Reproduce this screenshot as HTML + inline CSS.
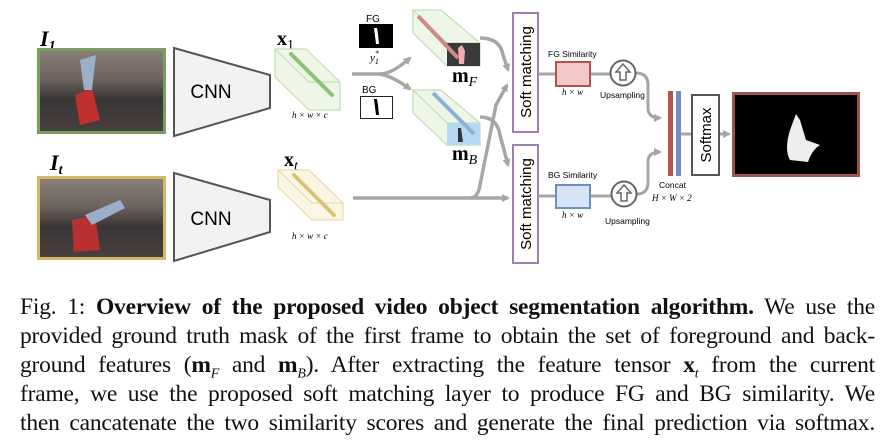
<!DOCTYPE html>
<html><head><meta charset="utf-8"><style>
body{margin:0;background:#fff;width:895px;height:441px;overflow:hidden;position:relative}
svg{position:absolute;left:0;top:0}
.cap{position:absolute;left:20px;width:855px;font-family:"Liberation Serif",serif;font-size:23.5px;line-height:23px;text-align:justify;text-align-last:justify;white-space:nowrap;color:#111;letter-spacing:-0.2px}
</style></head><body>
<svg width="895" height="290" viewBox="0 0 895 290" font-family="Liberation Sans, sans-serif">
<defs>
<marker id="ar" markerWidth="8" markerHeight="8" refX="6" refY="4" orient="auto" markerUnits="userSpaceOnUse"><path d="M0,0 L8,4 L0,8 z" fill="#a6a6a6"/></marker>
<linearGradient id="ph" x1="0" y1="0" x2="0" y2="1"><stop offset="0" stop-color="#8a7f78"/><stop offset="0.35" stop-color="#6e6460"/><stop offset="0.6" stop-color="#3a3535"/><stop offset="1" stop-color="#4a4040"/></linearGradient>
</defs>
<text x="40" y="46" font-family="Liberation Serif,serif" font-style="italic" font-weight="bold" font-size="22">I<tspan font-size="14" dy="4">1</tspan></text>
<rect x="38.5" y="49.5" width="126" height="83" fill="url(#ph)" stroke="#7a9e5c" stroke-width="3"/>
<path d="M75 95 L92 88 L100 120 L80 125z" fill="#c0302c"/><path d="M80 60 L96 55 L92 90 L84 90z" fill="#9bb0c8"/>
<text x="50" y="170" font-family="Liberation Serif,serif" font-style="italic" font-weight="bold" font-size="22">I<tspan font-size="14" dy="4">t</tspan></text>
<rect x="38.5" y="177.5" width="126" height="81" fill="url(#ph)" stroke="#d4b86a" stroke-width="3"/>
<path d="M72 220 L95 215 L100 250 L74 252z" fill="#b83030"/><path d="M85 215 L120 200 L125 208 L92 225z" fill="#9bb0c8"/>
<polygon points="174,48 270,75 270,108 174,136" fill="#f2f2f2" stroke="#555" stroke-width="2"/>
<text x="211" y="98" text-anchor="middle" font-size="19">CNN</text>
<polygon points="174,173 270,200 270,232 174,261" fill="#f2f2f2" stroke="#555" stroke-width="2"/>
<text x="211" y="225" text-anchor="middle" font-size="19">CNN</text>
<text x="277" y="45" font-family="Liberation Serif,serif" font-weight="bold" font-size="20">x<tspan font-size="14" dy="4" font-weight="normal">1</tspan></text>
<g stroke="#c5dcb5" stroke-width="1.2" fill="#eef6e8">
<polygon points="275,49 306,49 340,82 340,110 309,110 275,77"/>
<polyline points="275,49 309,82 340,82 M309,82 309,110" fill="none"/>
</g>
<line x1="291" y1="54" x2="332" y2="95" stroke="#8fc07a" stroke-width="4" stroke-linecap="round"/>
<text x="292" y="118" font-family="Liberation Serif,serif" font-style="italic" font-size="9">h × w × c</text>
<text x="284" y="166" font-family="Liberation Serif,serif" font-weight="bold" font-size="20">x<tspan font-size="14" dy="4" font-style="italic" font-weight="normal">t</tspan></text>
<g stroke="#e8dbaa" stroke-width="1.2" fill="#fbf6e3">
<polygon points="278,170 309,170 343,203 343,220 312,220 278,187"/>
<polyline points="278,170 312,203 343,203 M312,203 312,220" fill="none"/>
</g>
<line x1="294" y1="175" x2="334" y2="215" stroke="#d9c27a" stroke-width="4" stroke-linecap="round"/>
<text x="292" y="239" font-family="Liberation Serif,serif" font-style="italic" font-size="9">h × w × c</text>
<text x="366" y="22" font-size="10">FG</text>
<rect x="359" y="24" width="34" height="24" fill="#000"/>
<path d="M374 28 l3 0 l1 6 l1 10 l-3 0 l-1 -8 z" fill="#fff"/>
<text x="370" y="61" font-family="Liberation Serif,serif" font-style="italic" font-size="11">y<tspan font-size="8" dy="-5">*</tspan><tspan font-size="8" dx="-4" dy="8">1</tspan></text>
<text x="362" y="93" font-size="10">BG</text>
<rect x="360.5" y="96.5" width="32" height="22" fill="#fff" stroke="#222"/>
<path d="M374 99 l3 0 l1 6 l1 10 l-3 0 l-1 -8 z" fill="#000"/>
<g fill="none" stroke="#a6a6a6" stroke-width="3.5">
<path d="M352 74 L380 74 Q392 74 410 58" marker-end="url(#ar)"/>
<path d="M380 74 Q392 76 410 89" marker-end="url(#ar)"/>
</g>
<g stroke="#c5dcb5" stroke-width="1.2" fill="#eef6e8">
<polygon points="413,10 441,10 480,43 480,66 447,66 413,33"/>
<polyline points="413,10 447,43 480,43" fill="none"/>
</g>
<rect x="447" y="43" width="33" height="23" fill="#3a3a3a"/>
<line x1="418" y1="16" x2="458" y2="58" stroke="#d08a84" stroke-width="4"/>
<path d="M458 48 l4 -3 l3 6 l-1 13 l-5 0z" fill="#f0b0b0"/>
<text x="452" y="82" font-family="Liberation Serif,serif" font-weight="bold" font-size="20">m<tspan font-size="14" dy="4" font-style="italic" font-weight="normal">F</tspan></text>
<g stroke="#c5dcb5" stroke-width="1.2" fill="#eef6e8">
<polygon points="413,90 441,90 480,123 480,145 447,145 413,113"/>
<polyline points="413,90 447,123 480,123" fill="none"/>
</g>
<rect x="447" y="123" width="33" height="22" fill="#b7d8f0"/>
<line x1="433" y1="93" x2="474" y2="134" stroke="#8fb0d8" stroke-width="4"/>
<path d="M458 128 l3 0 l2 14 l-5 0z" fill="#333"/>
<text x="452" y="160" font-family="Liberation Serif,serif" font-weight="bold" font-size="20">m<tspan font-size="14" dy="4" font-style="italic" font-weight="normal">B</tspan></text>
<g fill="none" stroke="#a6a6a6" stroke-width="3.5">
<path d="M480 38 Q500 38 503 55 L508 70" marker-end="url(#ar)"/>
<path d="M480 117 Q497 117 500 135 L508 165" marker-end="url(#ar)"/>
<path d="M353 198 L508 198" marker-end="url(#ar)"/>
<path d="M470 198 Q478 198 480 185 L496 105 L507 85" marker-end="url(#ar)"/>
</g>
<rect x="513" y="13" width="25" height="119" fill="#fff" stroke="#9b7fb5" stroke-width="2"/>
<text transform="translate(531,72) rotate(-90)" text-anchor="middle" font-size="15">Soft matching</text>
<rect x="513" y="145" width="25" height="118" fill="#fff" stroke="#9b7fb5" stroke-width="2"/>
<text transform="translate(531,204) rotate(-90)" text-anchor="middle" font-size="15">Soft matching</text>
<g fill="none" stroke="#a6a6a6" stroke-width="3">
<line x1="538" y1="74" x2="556" y2="74"/><line x1="590" y1="74" x2="610" y2="74"/>
<line x1="538" y1="196" x2="556" y2="196"/><line x1="590" y1="196" x2="611" y2="196"/>
<path d="M636 73 Q648 73 648 85 L648 108 Q648 118 660 118" marker-end="url(#ar)"/>
<path d="M637 194 Q648 194 648 182 L648 162 Q648 152 660 152" marker-end="url(#ar)"/>
<line x1="680" y1="134" x2="692" y2="134"/>
<path d="M719 134 L729 134" marker-end="url(#ar)"/>
</g>
<text x="548" y="57" font-size="8.5">FG Similarity</text>
<rect x="556" y="62" width="34" height="24" fill="#f3c9c7" stroke="#b5524d" stroke-width="2"/>
<text x="562" y="95" font-family="Liberation Serif,serif" font-style="italic" font-size="9">h × w</text>
<text x="548" y="178" font-size="8.5">BG Similarity</text>
<rect x="556" y="185" width="34" height="23" fill="#d8e4f5" stroke="#6f8fbf" stroke-width="2"/>
<text x="562" y="218" font-family="Liberation Serif,serif" font-style="italic" font-size="9">h × w</text>
<g fill="#fff" stroke="#666" stroke-width="2">
<circle cx="623" cy="73" r="12.5"/><circle cx="624" cy="194" r="12.5"/>
<path d="M623 64 L630 72 L626 72 L626 80 L620 80 L620 72 L616 72z" stroke-width="1.5"/>
<path d="M624 185 L631 193 L627 193 L627 201 L621 201 L621 193 L617 193z" stroke-width="1.5"/>
</g>
<text x="600" y="98" font-size="8.5">Upsampling</text>
<text x="605" y="224" font-size="8.5">Upsampling</text>
<rect x="668" y="91" width="5" height="85" fill="#b5524d"/>
<rect x="676" y="91" width="5" height="85" fill="#6f8fbf"/>
<text x="659" y="188" font-size="8.5">Concat</text>
<text x="652" y="201" font-family="Liberation Serif,serif" font-style="italic" font-size="9">H × W × 2</text>
<rect x="692" y="95" width="27" height="80" fill="#fff" stroke="#555" stroke-width="2"/>
<text transform="translate(711,135) rotate(-90)" text-anchor="middle" font-size="15">Softmax</text>
<rect x="733.5" y="93.5" width="125" height="82" fill="#000" stroke="#a0524c" stroke-width="3"/>
<path d="M790 130 Q784 150 790 160 L808 162 Q812 150 820 145 L806 140 L800 120 L796 114z" fill="#eee"/>
</svg>
<div class="cap" style="top:296px">Fig. 1: <b>Overview of the proposed video object segmentation algorithm.</b> We use the</div>
<div class="cap" style="top:325px">provided ground truth mask of the first frame to obtain the set of foreground and back-</div>
<div class="cap" style="top:354px">ground features (<b>m</b><sub style="font-size:14px;font-style:italic">F</sub> and <b>m</b><sub style="font-size:14px;font-style:italic">B</sub>). After extracting the feature tensor <b>x</b><sub style="font-size:14px;font-style:italic">t</sub> from the current</div>
<div class="cap" style="top:383px">frame, we use the proposed soft matching layer to produce FG and BG similarity. We</div>
<div class="cap" style="top:412px">then cancatenate the two similarity scores and generate the final prediction via softmax.</div>
</body></html>
